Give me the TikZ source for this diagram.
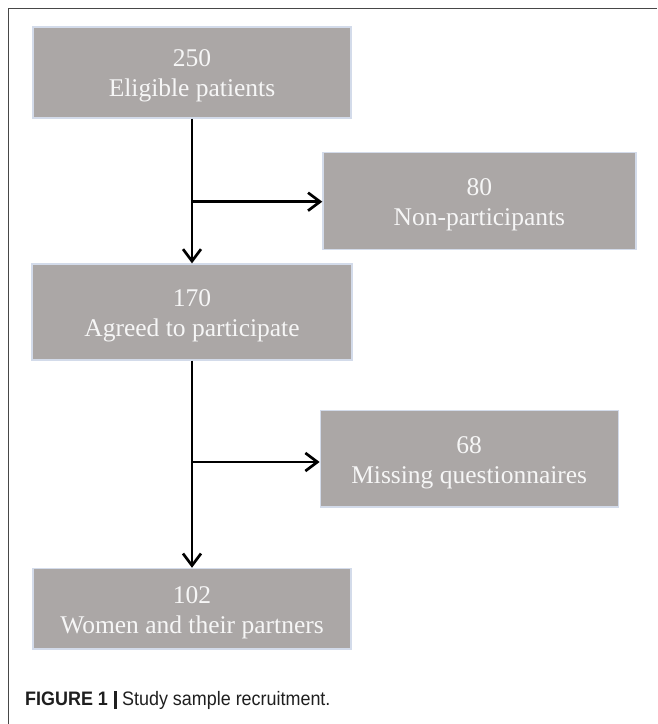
\documentclass[tikz,border=0pt]{standalone}
\usepackage{fontspec}
\usepackage{graphicx}
\setmainfont{Liberation Serif}
\newfontfamily\capfont{Liberation Sans}
\usetikzlibrary{arrows.meta}
\definecolor{boxgray}{RGB}{171,167,166}
\definecolor{boxedge}{RGB}{211,219,234}
\definecolor{framegray}{RGB}{72,72,72}
\definecolor{boxtext}{RGB}{246,246,246}
\newcommand{\toprl}{\rule{0pt}{25pt}}
\newcommand{\botrl}{\rule[-6.2pt]{0pt}{6.2pt}}
\tikzset{
  flowbox/.style={rectangle, fill=boxgray, draw=boxedge, line width=1.2pt,
    text=boxtext, align=center, inner sep=0pt,
    font=\fontsize{25.5}{30}\selectfont},
  arr/.style={draw=black, line width=2.7pt, -{Straight Barb[length=12pt,width=18pt,line width=2.7pt]}}
}
\begin{document}
\begin{tikzpicture}[x=1pt,y=-1pt]
\useasboundingbox (0,0) rectangle (657,724);
\fill[white] (0,0) rectangle (657,724);
% frame
\draw[framegray, line width=1.6pt] (8.3,724) -- (8.3,8.3) -- (657,8.3);
% boxes
\node[flowbox, minimum width=318pt, minimum height=91pt] (b1) at (192,72.5) {\toprl 250\\Eligible patients\botrl};
\node[flowbox, minimum width=313pt, minimum height=96.6pt] (b2) at (479.4,201) {\toprl 80\\Non-participants\botrl};
\node[flowbox, minimum width=320pt, minimum height=96pt] (b3) at (192,312) {\toprl 170\\Agreed to participate\botrl};
\node[flowbox, minimum width=298pt, minimum height=96.3pt] (b4) at (469.2,458.9) {\toprl 68\\Missing questionnaires\botrl};
\node[flowbox, minimum width=318pt, minimum height=80.7pt] (b5) at (192,608.7) {\toprl 102\\Women and their partners\botrl};
% junctions
\coordinate (j1) at (192,201.7);
\coordinate (j2) at (192,462);
% connectors
\draw[arr] (b1.south -| j1) -- (b3.north -| j1);
\draw[arr] (j1) -- (b2.west |- j1);
\draw[arr] (b3.south -| j2) -- (b5.north -| j2);
\draw[arr] (j2) -- (b4.west |- j2);
% caption
\node[anchor=base west, inner sep=0pt, text=black!88] (cap) at (25,705.7)
  {\scalebox{0.92}[1]{\capfont\fontsize{19.5}{22}\selectfont\textbf{FIGURE 1}\hspace{7pt}\rule[-3.5pt]{2.4pt}{18pt}\hspace{6pt}Study sample recruitment.}};
\end{tikzpicture}
\end{document}
